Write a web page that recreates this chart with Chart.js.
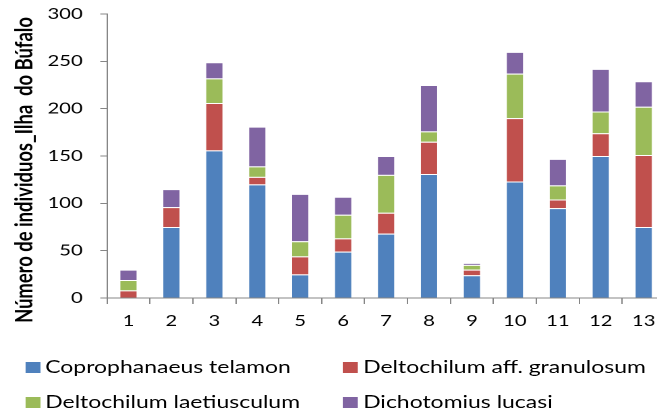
<!DOCTYPE html>
<html>
<head>
<meta charset="utf-8">
<script src="https://cdn.jsdelivr.net/npm/chart.js@4.4.1/dist/chart.umd.min.js"></script>
<style>
  html, body { margin: 0; padding: 0; background: #fff; overflow: hidden; }
  #wrap { position: relative; width: 657px; height: 415px; overflow: hidden; }
  /* the drawing is stretched sideways, like the original export */
  #chart { position: absolute; left: 0; top: 0; width: 680px !important; height: 345px !important; }
  #legend { position: absolute; left: 0; top: 0; width: 504px; height: 415px; transform: scaleX(1.35); transform-origin: 0 0; }
  .leg { position: absolute; font-family: Lato, sans-serif; font-size: 17px; color: #000; white-space: nowrap; line-height: 20px; }
  .leg span.box { position: absolute; left: 0; top: 5px; width: 11px; height: 11px; }
  .leg span.txt { position: absolute; left: 15px; top: 0; }
</style>
</head>
<body>
<div id="wrap">
  <canvas id="chart" width="504" height="345" style="width:680px;height:345px"></canvas>
  <div id="legend"></div>
</div>
<script>
// sites along the transect
var sites = ['1', '2', '3', '4', '5', '6', '7', '8', '9', '10', '11', '12', '13'];

// individuals per species at each site
var coprophanaeus = [0, 75, 156, 120, 25, 49, 68, 131, 24, 123, 95, 150, 75];
var granulosum    = [8, 21, 50, 8, 19, 14, 22, 34, 6, 67, 9, 24, 76];
var laetiusculum  = [11, 0, 26, 11, 16, 25, 40, 11, 5, 47, 15, 23, 51];
var dichotomius   = [11, 19, 17, 42, 50, 19, 20, 49, 2, 23, 28, 45, 27];

var yTicks = [0, 50, 100, 150, 200, 250, 300];
var yTitle = 'Número de individuos_Ilha  do Búfalo';

var axisGrey = '#868686';
var tickFont = { family: 'Lato', size: 15 };

function serie(label, values, color) {
    return {
        label: label,
        data: values,
        backgroundColor: color,
        borderColor: 'rgba(255,255,255,0.45)',
        borderWidth: 1,
        barPercentage: 0.44,
        categoryPercentage: 1
    };
}

// rotated axis title, drawn by hand so it can sit a bit lower than centre
var yTitlePlugin = {
    id: 'yTitle',
    afterDraw: function (chart) {
        var c = chart.ctx;
        c.save();
        c.translate(18, 170);
        c.rotate(-Math.PI / 2);
        c.font = 'bold 18.4px Lato';
        c.fillStyle = '#000';
        c.textAlign = 'center';
        c.textBaseline = 'middle';
        c.fillText(yTitle, 0, 0);
        c.restore();
    }
};

var ctx = document.getElementById('chart');
const myChart = new Chart(ctx, {
    type: 'bar',
    data: {
        labels: sites,
        datasets: [
            serie('Coprophanaeus telamon', coprophanaeus, '#4F81BD'),
            serie('Deltochilum aff. granulosum', granulosum, '#C0504D'),
            serie('Deltochilum laetiusculum', laetiusculum, '#9BBB59'),
            serie('Dichotomius lucasi', dichotomius, '#8064A2')
        ]
    },
    plugins: [yTitlePlugin],
    options: {
        responsive: false,
        animation: false,
        devicePixelRatio: 2,
        layout: { padding: { top: 0, right: 11, left: 0, bottom: 0 } },
        plugins: {
            legend: { display: false },
            tooltip: { enabled: false }
        },
        scales: {
            x: {
                stacked: true,
                border: { color: axisGrey, width: 1 },
                grid: { drawOnChartArea: false, drawTicks: true, tickLength: 6, color: axisGrey },
                ticks: { color: '#000', font: tickFont, padding: 8, maxRotation: 0 },
                afterFit: function (scale) { scale.height = 47; }
            },
            y: {
                stacked: true,
                min: 0,
                max: 300,
                border: { color: axisGrey, width: 1 },
                grid: { drawOnChartArea: false, drawTicks: true, tickLength: 5, color: axisGrey },
                afterBuildTicks: function (scale) {
                    scale.ticks = yTicks.map(function (v) { return { value: v }; });
                },
                ticks: { color: '#000', font: tickFont, padding: 13 },
                afterFit: function (scale) {
                    scale.width = 79.3;
                    scale.paddingTop = 14;
                    scale.paddingBottom = 0;
                }
            }
        }
    }
});

// legend in two columns under the plot
var legendPos = [[18.5, 357], [254, 357], [18.5, 392], [254, 392]];
var legendHtml = '';
myChart.data.datasets.forEach(function (ds, i) {
    legendHtml += '<div class="leg" style="left:' + legendPos[i][0] + 'px;top:' + legendPos[i][1] + 'px">' +
        '<span class="box" style="background:' + ds.backgroundColor + '"></span>' +
        '<span class="txt">' + ds.label + '</span></div>';
});
document.getElementById('legend').innerHTML = legendHtml;
</script>
</body>
</html>
